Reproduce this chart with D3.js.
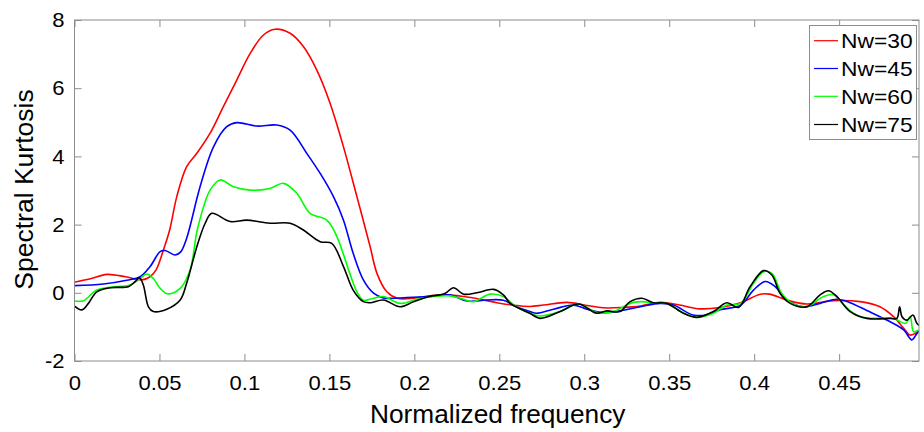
<!DOCTYPE html>
<html>
<head>
<meta charset="utf-8">
<script src="https://cdn.jsdelivr.net/npm/d3@7"></script>
<style>
  html, body { margin: 0; padding: 0; background: #fff; }
  svg { display: block; font-family: "Liberation Sans", Arial, sans-serif; }
</style>
</head>
<body>
<svg id="chart" width="924" height="432"></svg>
<script>
// ---------- data ----------
const seriesNames = ["Nw=30", "Nw=45", "Nw=60", "Nw=75"];
const seriesColors = ["#ff0000", "#0000ff", "#00ff00", "#000000"];

const freq30 = [0,0.010,0.019,0.030,0.0396,0.0445,0.048,0.0523,0.056,0.0602,0.066,0.072,0.0798,0.0876,0.0955,0.1034,0.1112,0.118,0.1269,0.1347,0.1426,0.1504,0.1583,0.1662,0.174,0.178,0.1838,0.19,0.1995,0.209,0.219,0.229,0.2387,0.2486,0.258,0.268,0.276,0.2898,0.3015,0.311,0.323,0.333,0.3447,0.356,0.368,0.380,0.392,0.4036,0.409,0.419,0.431,0.4467,0.4624,0.474,0.482,0.488,0.4918,0.4948,0.4977];
const sk30   = [0.31,0.42,0.54,0.47,0.38,0.47,0.67,1.25,1.84,2.82,3.70,4.09,4.68,5.46,6.24,7.02,7.56,7.73,7.61,7.22,6.53,5.56,4.28,2.82,1.35,0.57,0.03,-0.16,-0.16,-0.09,-0.06,-0.11,-0.19,-0.29,-0.36,-0.40,-0.36,-0.28,-0.37,-0.44,-0.43,-0.39,-0.28,-0.36,-0.47,-0.43,-0.29,-0.04,-0.04,-0.21,-0.33,-0.23,-0.26,-0.41,-0.70,-1.04,-1.24,-1.19,-1.09];

const freq45 = [0,0.017,0.0308,0.0386,0.0445,0.0504,0.0533,0.0592,0.0625,0.066,0.0739,0.0818,0.0896,0.0955,0.1073,0.119,0.1269,0.1367,0.1446,0.1524,0.1583,0.164,0.170,0.176,0.1818,0.1956,0.209,0.221,0.2309,0.2427,0.2524,0.260,0.268,0.272,0.2819,0.2936,0.3015,0.311,0.321,0.333,0.3447,0.3525,0.364,0.372,0.380,0.392,0.3996,0.4065,0.4124,0.419,0.429,0.4388,0.4487,0.4565,0.4663,0.478,0.488,0.4928,0.4958,0.4977];
const sk45   = [0.21,0.26,0.37,0.47,0.77,1.21,1.24,1.11,1.20,1.60,3.11,4.28,4.87,4.99,4.89,4.92,4.77,4.09,3.50,2.82,2.13,1.16,0.38,-0.01,-0.15,-0.14,-0.11,-0.06,-0.24,-0.21,-0.22,-0.41,-0.55,-0.60,-0.48,-0.36,-0.48,-0.58,-0.53,-0.41,-0.31,-0.36,-0.65,-0.65,-0.50,-0.36,0.08,0.33,0.18,-0.21,-0.41,-0.31,-0.19,-0.29,-0.52,-0.80,-1.09,-1.38,-1.19,-1.09];

const freq60 = [0,0.0053,0.0131,0.021,0.0327,0.0386,0.0426,0.0464,0.0504,0.0548,0.0622,0.068,0.0725,0.0798,0.0857,0.0935,0.1034,0.115,0.123,0.1308,0.1387,0.1485,0.1544,0.162,0.1665,0.170,0.176,0.1818,0.1916,0.2015,0.2112,0.221,0.229,0.2348,0.2446,0.2524,0.260,0.268,0.274,0.2858,0.2966,0.3074,0.317,0.327,0.333,0.3407,0.3486,0.3584,0.3663,0.376,0.3839,0.392,0.3996,0.4055,0.4104,0.4163,0.423,0.431,0.4408,0.4467,0.4546,0.4624,0.474,0.482,0.489,0.4918,0.4938,0.4968];
const sk60   = [-0.24,-0.23,0.08,0.16,0.23,0.42,0.55,0.42,0.13,-0.03,0.13,0.67,1.90,3.01,3.31,3.11,3.01,3.06,3.21,2.92,2.33,2.13,1.65,0.57,0.0,-0.22,-0.16,-0.11,-0.31,-0.19,-0.11,-0.09,-0.19,-0.26,-0.04,-0.11,-0.41,-0.60,-0.68,-0.55,-0.33,-0.58,-0.55,-0.31,-0.26,-0.29,-0.31,-0.60,-0.72,-0.60,-0.36,-0.31,0.28,0.62,0.57,-0.02,-0.33,-0.41,-0.11,-0.06,-0.45,-0.70,-0.75,-0.75,-0.90,-0.70,-1.14,-1.09];

const freq75 = [0,0.0043,0.0082,0.0131,0.021,0.0317,0.0357,0.0382,0.0405,0.0435,0.0464,0.0543,0.0622,0.066,0.072,0.0769,0.0808,0.0916,0.1014,0.115,0.1269,0.1347,0.1446,0.1514,0.1583,0.164,0.170,0.174,0.1818,0.1916,0.1995,0.209,0.218,0.223,0.229,0.2368,0.2466,0.2524,0.2564,0.268,0.274,0.2858,0.2966,0.3074,0.3133,0.321,0.327,0.3339,0.3407,0.3486,0.3584,0.3663,0.376,0.3839,0.3908,0.3976,0.4055,0.4104,0.4153,0.4212,0.431,0.4388,0.4437,0.4487,0.4565,0.4663,0.4801,0.484,0.4856,0.487,0.490,0.4934,0.4958,0.4982];
const sk75   = [-0.39,-0.50,-0.31,0.03,0.15,0.18,0.33,0.44,0.23,-0.41,-0.55,-0.48,-0.21,0.28,1.35,2.04,2.33,2.09,2.13,2.04,2.04,1.84,1.50,1.45,0.77,0.08,-0.26,-0.29,-0.21,-0.41,-0.26,-0.11,-0.02,0.15,-0.04,0.00,0.10,-0.06,-0.31,-0.60,-0.75,-0.55,-0.33,-0.60,-0.53,-0.55,-0.26,-0.16,-0.29,-0.31,-0.60,-0.72,-0.55,-0.29,-0.43,0.18,0.65,0.52,-0.02,-0.31,-0.41,-0.06,0.06,-0.11,-0.55,-0.75,-0.75,-0.75,-0.41,-0.70,-0.80,-0.65,-0.90,-0.99];

const xTicks = [0,0.05,0.1,0.15,0.2,0.25,0.3,0.35,0.4,0.45];
const yTicks = [-2,0,2,4,6,8];
const xTickLabels = ["0","0.05","0.1","0.15","0.2","0.25","0.3","0.35","0.4","0.45"];
const yTickLabels = ["-2","0","2","4","6","8"];
const xLabel = "Normalized frequency";
const yLabel = "Spectral Kurtosis";

const freqs = [freq30, freq45, freq60, freq75];
const sks = [sk30, sk45, sk60, sk75];

// ---------- layout ----------
const L = 74.5, R = 919, T = 20, B = 361;
const svg = d3.select("#chart");
const x = d3.scaleLinear().domain([0, 0.497]).range([L, R]);
const y = d3.scaleLinear().domain([-2, 8]).range([B, T]);
const axisColor = "#8c8c8c";
const tickLen = 7;

// clip
svg.append("defs").append("clipPath").attr("id", "clip")
  .append("rect").attr("x", L).attr("y", T).attr("width", R - L).attr("height", B - T);

// lines
const line = d3.line()
  .x(d => x(d[0])).y(d => y(d[1]))
  .curve(d3.curveCatmullRom.alpha(0.5));

const gLines = svg.append("g").attr("clip-path", "url(#clip)");
seriesNames.forEach((name, i) => {
  const pts = freqs[i].map((f, k) => [f, sks[i][k]]);
  gLines.append("path")
    .datum(pts)
    .attr("d", line)
    .attr("fill", "none")
    .attr("stroke", seriesColors[i])
    .attr("stroke-width", 1.6)
    .attr("stroke-linejoin", "round");
});

// axes (ticks inward on all sides)
function styleAxis(g) {
  g.selectAll("path.domain").remove();
  g.selectAll(".tick line").attr("stroke", axisColor).attr("stroke-width", 1);
}
const gx = svg.append("g").attr("transform", `translate(0,${B})`)
  .call(d3.axisBottom(x).tickValues(xTicks).tickSize(-tickLen).tickPadding(29)
        .tickFormat((d, i) => xTickLabels[i]));
styleAxis(gx);
gx.selectAll(".tick text")
  .attr("fill", "#000").attr("font-size", 21)
  .attr("font-family", "Liberation Sans, Arial, sans-serif")
  .attr("dy", null)
  .each(function() {
    const t = d3.select(this);
    const yy = +t.attr("y");
    t.attr("y", null).attr("transform", `translate(0,${yy}) scale(1.05,1)`);
  });

const gxt = svg.append("g").attr("transform", `translate(0,${T})`)
  .call(d3.axisTop(x).tickValues(xTicks).tickSize(-tickLen).tickFormat(""));
styleAxis(gxt);

const gy = svg.append("g").attr("transform", `translate(${L},0)`)
  .call(d3.axisLeft(y).tickValues(yTicks).tickSize(-tickLen).tickPadding(10)
        .tickFormat((d, i) => yTickLabels[i]));
styleAxis(gy);
gy.selectAll(".tick text")
  .attr("fill", "#000").attr("font-size", 21)
  .attr("font-family", "Liberation Sans, Arial, sans-serif")
  .each(function() {
    const t = d3.select(this);
    const xx = +t.attr("x");
    t.attr("x", null).attr("transform", `translate(${xx},0) scale(1.05,1)`);
  });

const gyr = svg.append("g").attr("transform", `translate(${R},0)`)
  .call(d3.axisRight(y).tickValues(yTicks).tickSize(-tickLen).tickFormat(""));
styleAxis(gyr);

// box
svg.append("rect").attr("x", L).attr("y", T).attr("width", R - L).attr("height", B - T)
  .attr("fill", "none").attr("stroke", axisColor).attr("stroke-width", 1);

// axis labels
svg.append("text")
  .attr("transform", `translate(${(L + R) / 2 + 1},423) scale(1.03,1)`)
  .attr("text-anchor", "middle")
  .attr("font-size", 25.5)
  .attr("fill", "#000")
  .text(xLabel);

svg.append("text")
  .attr("transform", `translate(33,${(T + B) / 2 - 1}) rotate(-90)`)
  .attr("text-anchor", "middle")
  .attr("font-size", 26.5)
  .attr("fill", "#000")
  .text(yLabel);

// legend
const lg = svg.append("g");
lg.append("rect").attr("x", 809.5).attr("y", 25.5).attr("width", 107).attr("height", 114)
  .attr("fill", "#fff").attr("stroke", axisColor).attr("stroke-width", 1);
const rowY = [40.7, 68.5, 96.3, 124.5];
seriesNames.forEach((name, i) => {
  lg.append("line").attr("x1", 814).attr("x2", 838).attr("y1", rowY[i]).attr("y2", rowY[i])
    .attr("stroke", seriesColors[i]).attr("stroke-width", 1.2);
  lg.append("text")
    .attr("transform", `translate(841,${rowY[i]}) scale(1.14,1)`)
    .attr("dy", "0.36em")
    .attr("font-size", 20)
    .attr("fill", "#000")
    .text(name);
});
</script>
</body>
</html>
